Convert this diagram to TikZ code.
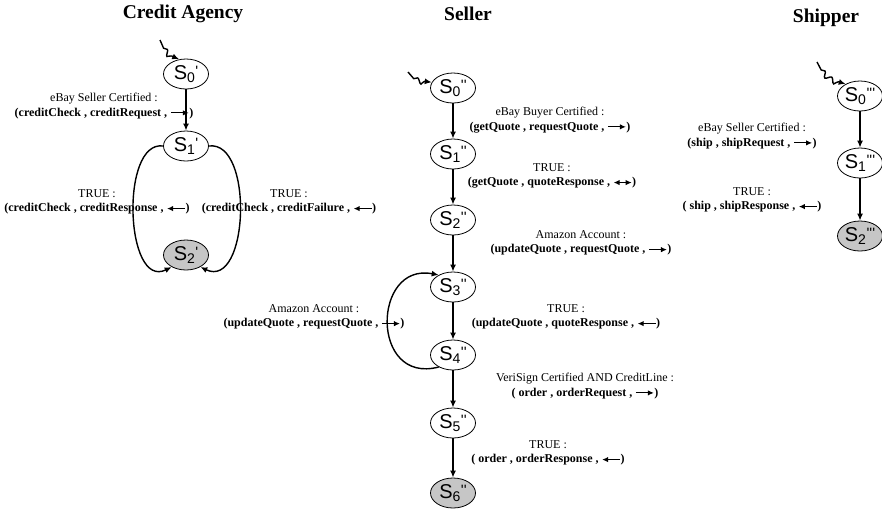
\documentclass[tikz,border=0pt]{standalone}
\usepackage{fontspec}
\setmainfont{Liberation Serif}
\newfontfamily\statefont{Liberation Sans}
\usetikzlibrary{shapes.geometric,arrows.meta,decorations.pathmorphing}

% state label: S with index and primes
\newcommand{\stname}[2]{S\textsubscript{#1}\raisebox{3pt}{\fontsize{15}{15}\selectfont#2}}
% small arrows inside the conditions
\newcommand{\condright}{\tikz[baseline=-0.6ex]\draw[line width=1.1pt,-{Latex[length=6pt,width=5.5pt]}] (0pt,0pt) -- (18pt,0pt);}
\newcommand{\condleft}{\tikz[baseline=-0.6ex]\draw[line width=1.1pt,{Latex[length=6pt,width=5.5pt]}-] (0pt,0pt) -- (18pt,0pt);}
\newcommand{\condboth}{\tikz[baseline=-0.6ex]\draw[line width=1.1pt,{Latex[length=6pt,width=5.5pt]}-{Latex[length=6pt,width=5.5pt]}] (0pt,0pt) -- (18pt,0pt);}

\begin{document}
\begin{tikzpicture}[
        x=1pt, y=-1pt,
        >={Latex[length=7pt,width=6pt]},
        state/.style={ellipse, draw, line width=0.8pt, minimum width=45pt, minimum height=30pt, inner sep=0pt, font=\statefont\fontsize{20}{20}\selectfont},
        final/.style={state, fill=gray!45},
        edge_line/.style={line width=1.4pt},
        start_line/.style={line width=1.4pt, ->, decorate, decoration={snake, amplitude=2.5pt, segment length=10pt, pre length=9pt, post length=6pt}},
        cond/.style={align=center, inner sep=0pt, font=\fontsize{12}{14.5}\selectfont},
        title/.style={font=\bfseries\fontsize{19.5}{22}\selectfont}
    ]
        \useasboundingbox (0,0) rectangle (882,517);

        % Credit Agency
        \node[title] (ca_title) at (183,14) {Credit Agency};
        \node[state] (ca0) at (186,74) {\stname{0}{'}};
        \node[state] (ca1) at (186,146) {\stname{1}{'}};
        \node[final] (ca2) at (186,255) {\stname{2}{'}};
        \coordinate (ca_start) at (160,40);
        \draw[start_line] (ca_start) to[out=-75, in=160] (ca0.115);
        \draw[edge_line, ->] (ca0) -- (ca1);
        \draw[edge_line, ->] (ca1.west) .. controls (120,140) and (125,290) .. (ca2.220);
        \draw[edge_line, ->] (ca1.east) .. controls (254,140) and (249,290) .. (ca2.-40);
        \node[cond] (ca_c01) at (104,106) {eBay Seller Certified :\\\textbf{(creditCheck , creditRequest , \condright)}};
        \node[cond] (ca_c12a) at (97,202) {TRUE :\\\textbf{(creditCheck , creditResponse , \condleft)}};
        \node[cond] (ca_c12b) at (289,202) {TRUE :\\\textbf{(creditCheck , creditFailure , \condleft)}};

        % Seller
        \node[title] (se_title) at (468,14) {Seller};
        \node[state] (se0) at (453,88) {\stname{0}{''}};
        \node[state] (se1) at (453,154) {\stname{1}{''}};
        \node[state] (se2) at (453,220) {\stname{2}{''}};
        \node[state] (se3) at (453,287) {\stname{3}{''}};
        \node[state] (se4) at (453,355) {\stname{4}{''}};
        \node[state] (se5) at (453,423) {\stname{5}{''}};
        \node[final] (se6) at (453,493) {\stname{6}{''}};
        \coordinate (se_start) at (408,72);
        \draw[start_line] (se_start) to[out=-70, in=170] (se0.165);
        \draw[edge_line, ->] (se0) -- (se1);
        \draw[edge_line, ->] (se1) -- (se2);
        \draw[edge_line, ->] (se2) -- (se3);
        \draw[edge_line, ->] (se3) -- (se4);
        \draw[edge_line, ->] (se4) -- (se5);
        \draw[edge_line, ->] (se5) -- (se6);
        \draw[edge_line, ->] (se4.220) .. controls (370,385) and (372,262) .. (se3.140);
        \node[cond] (se_c01) at (550,120) {eBay Buyer Certified :\\\textbf{(getQuote , requestQuote , \condright)}};
        \node[cond] (se_c12) at (552,176) {TRUE :\\\textbf{(getQuote , quoteResponse , \condboth)}};
        \node[cond] (se_c23) at (581,243) {Amazon Account :\\\textbf{(updateQuote , requestQuote , \condright)}};
        \node[cond] (se_c43) at (314,317) {Amazon Account :\\\textbf{(updateQuote , requestQuote , \condright)}};
        \node[cond] (se_c34) at (566,317) {TRUE :\\\textbf{(updateQuote , quoteResponse , \condleft)}};
        \node[cond] (se_c45) at (585,386) {VeriSign Certified AND CreditLine :\\\textbf{( order , orderRequest , \condright)}};
        \node[cond] (se_c56) at (548,453) {TRUE :\\\textbf{( order , orderResponse , \condleft)}};

        % Shipper
        \node[title] (sh_title) at (826,18) {Shipper};
        \node[state] (sh0) at (860,96) {\stname{0}{'''}};
        \node[state] (sh1) at (860,163) {\stname{1}{'''}};
        \node[final] (sh2) at (860,236) {\stname{2}{'''}};
        \coordinate (sh_start) at (817,62);
        \draw[start_line] (sh_start) to[out=-70, in=165] (sh0.140);
        \draw[edge_line, ->] (sh0) -- (sh1);
        \draw[edge_line, ->] (sh1) -- (sh2);
        \node[cond] (sh_c01) at (752,136) {eBay Seller Certified :\\\textbf{(ship , shipRequest , \condright)}};
        \node[cond] (sh_c12) at (752,200) {TRUE :\\\textbf{( ship , shipResponse , \condleft)}};
    \end{tikzpicture}
\end{document}
